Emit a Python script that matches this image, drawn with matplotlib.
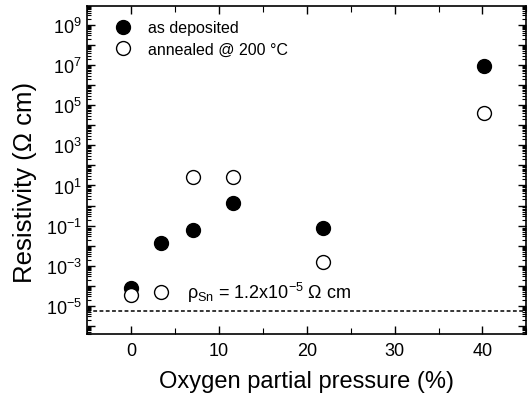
import numpy as np
import matplotlib.pyplot as plt
from matplotlib.ticker import FixedLocator, LogLocator, FuncFormatter, MultipleLocator

plt.rcParams['font.family'] = ['Liberation Sans', 'DejaVu Sans']
plt.rcParams['mathtext.fontset'] = 'custom'
plt.rcParams['mathtext.rm'] = 'Liberation Sans'
plt.rcParams['mathtext.it'] = 'Liberation Sans:italic'

# oxygen partial pressure (%)
o2_dep = [0, 3.4, 7.0, 11.6, 21.8, 40.2]
rho_dep = [8e-5, 1.4e-2, 6.3e-2, 1.3, 8e-2, 9e6]

o2_ann = [0, 3.4, 7.0, 11.6, 21.8, 40.2]
rho_ann = [3.5e-5, 5e-5, 25, 26, 1.6e-3, 4e4]

rho_sn_line = 5.6e-6

fig = plt.figure(figsize=(5.28, 4.02), dpi=100)
ax = fig.add_axes([0.165, 0.167, 0.832, 0.816])

ax.plot(o2_dep, rho_dep, 'o', ms=10, mfc='k', mec='k', label='as deposited')
ax.plot(o2_ann, rho_ann, 'o', ms=10, mfc='white', mec='k', mew=1.0,
        label='annealed @ 200 \u00b0C')
ax.axhline(rho_sn_line, color='k', ls=(0, (2.5, 1.6)), lw=1.1)

ax.text(6.4, 2.5e-5, '\u03c1$_{\\rm Sn}$ = 1.2x10$^{-5}$ \u03a9 cm', fontsize=13,
        ha='left', va='baseline')

ax.set_yscale('log')
ax.set_xlim(-5, 45)
ax.set_ylim(4e-7, 9e9)

ax.xaxis.set_major_locator(FixedLocator([0, 10, 20, 30, 40]))
ax.xaxis.set_minor_locator(MultipleLocator(5))
ax.yaxis.set_major_locator(FixedLocator([10.0 ** e for e in range(-6, 10)]))
ax.yaxis.set_minor_locator(LogLocator(base=10, subs=np.arange(2, 10), numticks=40))


def ylab(v, pos):
    e = int(round(np.log10(v)))
    return r'10$^{%d}$' % e if e % 2 else ''


ax.yaxis.set_major_formatter(FuncFormatter(ylab))
ax.tick_params(which='both', direction='in', top=True, right=True, labelsize=13)
ax.tick_params(which='major', length=6, width=1)
ax.tick_params(which='minor', length=3, width=0.8)
ax.tick_params(axis='x', which='minor', length=4)
ax.tick_params(axis='x', which='major', pad=6)
ax.tick_params(axis='y', which='major', pad=4)

for s in ax.spines.values():
    s.set_linewidth(1.2)

ax.set_xlabel('Oxygen partial pressure (%)', fontsize=17, labelpad=8)
ax.set_ylabel('Resistivity (\u03a9 cm)', fontsize=18.5)
ax.yaxis.set_label_coords(-0.115, 0.466)

ax.legend(loc='upper left', frameon=False, fontsize=11.5, handletextpad=0.6,
          borderaxespad=0.5, labelspacing=0.4, bbox_to_anchor=(0.012, 1.0))

fig.savefig('out.png', dpi=100)
